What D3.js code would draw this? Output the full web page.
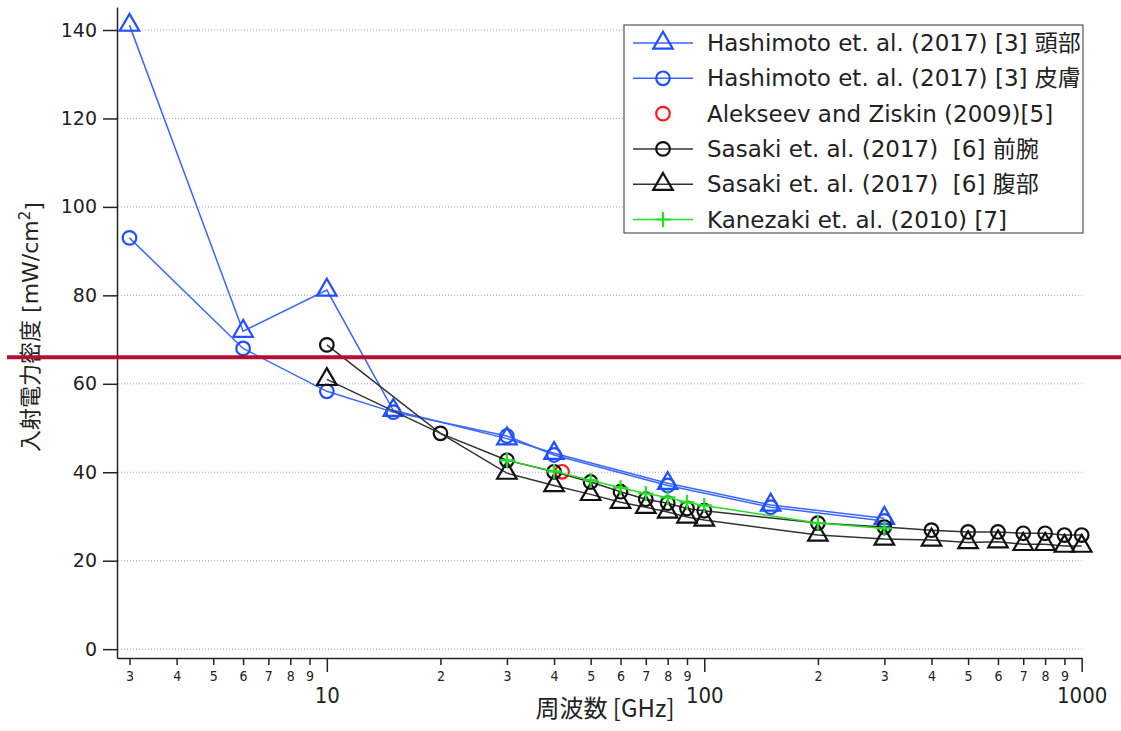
<!DOCTYPE html>
<html>
<head>
<meta charset="utf-8">
<script src="https://cdn.jsdelivr.net/npm/d3@7"></script>
<style>
  body { margin: 0; background: #fff; }
  text { font-family: "DejaVu Sans", "Noto Sans CJK JP", sans-serif; fill: #222; }
</style>
</head>
<body>
<script>
// Data (frequency in GHz, incident power density in mW/cm2)
var freqHashimoto = [3, 6, 10, 15, 30, 40, 80, 150, 300];
var headHashimoto = [141.1, 71.9, 81.2, 54.0, 47.6, 44.3, 37.5, 32.6, 29.6];
var skinHashimoto = [93.0, 68.0, 58.3, 53.6, 48.2, 43.9, 37.0, 32.1, 29.0];

var freqAlekseev = [42];
var valAlekseev = [40.1];

var freqSasaki = [10, 20, 30, 40, 50, 60, 70, 80, 90, 100, 200, 300, 400, 500, 600, 700, 800, 900, 1000];
var forearmSasaki = [68.8, 48.8, 42.7, 40.1, 37.8, 35.6, 33.9, 33.0, 31.8, 31.3, 28.5, 27.6, 26.9, 26.5, 26.5, 26.2, 26.2, 25.8, 25.8];
var abdomenSasaki = [61.0, 48.8, 39.8, 37.0, 35.0, 33.2, 32.1, 31.0, 29.9, 29.2, 25.8, 24.9, 24.7, 24.1, 24.3, 23.7, 23.7, 23.3, 23.3];
var abdomenNoMarker = [20];   // point on the line drawn without a marker

var freqKanezaki = [30, 40, 50, 60, 70, 80, 90, 100, 200, 300];
var valKanezaki = [42.7, 40.2, 38.2, 36.5, 35.2, 34.3, 33.2, 32.5, 28.5, 27.3];

var yTicks = [0, 20, 40, 60, 80, 100, 120, 140];
var xMajorTicks = [10, 100, 1000];
var xMinorTicks = [3, 4, 5, 6, 7, 8, 9, 20, 30, 40, 50, 60, 70, 80, 90, 200, 300, 400, 500, 600, 700, 800, 900];

var legendNames = [
    "Hashimoto et. al. (2017) [3] 頭部",
    "Hashimoto et. al. (2017) [3] 皮膚",
    "Alekseev and Ziskin (2009)[5]",
    "Sasaki et. al. (2017)  [6] 前腕",
    "Sasaki et. al. (2017)  [6] 腹部",
    "Kanezaki et. al. (2010) [7]"
];

var refLevel = 66;

function init() {
    var w = 1121;
    var h = 731;

    var series = [
        {name: legendNames[0], f: freqHashimoto, v: headHashimoto, stroke: "#1f4fff", line: "#3a66ff", shape: "tri", showLine: true},
        {name: legendNames[1], f: freqHashimoto, v: skinHashimoto, stroke: "#1f4fff", line: "#3a66ff", shape: "circle", showLine: true},
        {name: legendNames[2], f: freqAlekseev, v: valAlekseev, stroke: "#ff1a1a", line: "#ff1a1a", shape: "circle", showLine: false},
        {name: legendNames[3], f: freqSasaki, v: forearmSasaki, stroke: "#111", line: "#333", shape: "circle", showLine: true},
        {name: legendNames[4], f: freqSasaki, v: abdomenSasaki, stroke: "#111", line: "#333", shape: "tri", showLine: true, skip: abdomenNoMarker},
        {name: legendNames[5], f: freqKanezaki, v: valKanezaki, stroke: "#22e022", line: "#22e022", shape: "plus", showLine: true}
    ];

    var svg = d3.select("body")
        .append("svg")
        .attr("width", w)
        .attr("height", h);

    // Scales
    var xScale = d3.scaleLog()
        .domain([2.78, 1000])
        .range([117, 1081.7]);

    var yScale = d3.scaleLinear()
        .domain([-2, 145.2])
        .range([658, 7]);

    // Grid lines
    svg.append("g")
        .selectAll("line")
        .data(yTicks)
        .enter()
        .append("line")
        .attr("x1", 118)
        .attr("x2", 1081.7)
        .attr("y1", function(d) { return yScale(d); })
        .attr("y2", function(d) { return yScale(d); })
        .style("stroke", "#9c9cff")
        .style("stroke-width", 1)
        .style("stroke-dasharray", "1,2");

    // Y axis
    var yAxis = svg.append("g")
        .attr("transform", "translate(117,0)")
        .call(d3.axisLeft(yScale).tickValues(yTicks).tickSize(14).tickSizeOuter(0).tickPadding(6));
    yAxis.selectAll("text").style("font-size", "19px").style("fill", "#222");
    yAxis.selectAll("line, path").style("stroke", "#222").style("stroke-width", 1.5);

    // X axis, minor ticks
    var xMinor = svg.append("g")
        .attr("transform", "translate(0,658)")
        .call(d3.axisBottom(xScale).tickValues(xMinorTicks).tickSize(7).tickSizeOuter(0)
            .tickFormat(function(d) { return String(d).charAt(0); }));
    xMinor.selectAll("text")
        .attr("y", 18)
        .attr("dy", "0.35em")
        .style("font-family", "'Liberation Sans Narrow', 'DejaVu Sans Condensed', sans-serif")
        .style("font-size", "14px")
        .style("fill", "#222");
    xMinor.selectAll("line, path").style("stroke", "#222").style("stroke-width", 1.5);

    // X axis, major ticks
    var xMajor = svg.append("g")
        .attr("transform", "translate(0,658)")
        .call(d3.axisBottom(xScale).tickValues(xMajorTicks).tickSize(14).tickSizeOuter(0)
            .tickFormat(d3.format("d")));
    xMajor.select(".domain").remove();
    xMajor.selectAll("text")
        .attr("y", 37)
        .attr("dy", "0.35em")
        .style("font-family", "'Liberation Sans Narrow', 'DejaVu Sans Condensed', sans-serif")
        .style("font-size", "22px")
        .style("fill", "#222");
    xMajor.selectAll("line").style("stroke", "#222").style("stroke-width", 1.5);

    // Axis titles
    svg.append("text")
        .attr("x", 605)
        .attr("y", 709)
        .attr("dy", "0.35em")
        .attr("text-anchor", "middle")
        .style("font-family", "'Liberation Sans Narrow', 'Noto Sans CJK JP', sans-serif")
        .style("font-size", "24px")
        .text("周波数 [GHz]");

    var yTitle = svg.append("text")
        .attr("transform", "translate(30,327) rotate(-90)")
        .attr("text-anchor", "middle")
        .attr("dy", "0.35em")
        .style("font-size", "22px");
    yTitle.append("tspan").text("入射電力密度 [mW/cm");
    yTitle.append("tspan").attr("dy", "-0.5em").style("font-size", "15px").text("2");
    yTitle.append("tspan").attr("dy", "0.5em").text("]");

    // Marker drawing
    var triPath = d3.symbol(d3.symbolTriangle, 165)();
    function drawMarker(sel, s) {
        if (s.shape === "tri") {
            sel.append("path")
                .attr("d", triPath)
                .style("fill", "none")
                .style("stroke", s.stroke)
                .style("stroke-width", 2.2);
        } else if (s.shape === "circle") {
            sel.append("circle")
                .attr("r", 6.8)
                .style("fill", "none")
                .style("stroke", s.stroke)
                .style("stroke-width", 2.2);
        } else {
            sel.append("path")
                .attr("d", "M-7.5,0H7.5M0,-7.5V7.5")
                .style("stroke", s.stroke)
                .style("stroke-width", 2.2);
        }
    }

    var line = d3.line()
        .x(function(d) { return xScale(d[0]); })
        .y(function(d) { return yScale(d[1]); });

    // Series
    series.forEach(function(s) {
        var pts = s.f.map(function(f, i) { return [f, s.v[i]]; });
        var g = svg.append("g");
        if (s.showLine) {
            g.append("path")
                .datum(pts)
                .attr("d", line)
                .style("fill", "none")
                .style("stroke", s.line)
                .style("stroke-width", 1.5);
        }
        var skip = s.skip || [];
        g.selectAll("g.mk")
            .data(pts.filter(function(d) { return skip.indexOf(d[0]) < 0; }))
            .enter()
            .append("g")
            .attr("class", "mk")
            .attr("transform", function(d) { return "translate(" + xScale(d[0]) + "," + yScale(d[1]) + ")"; })
            .each(function() { drawMarker(d3.select(this), s); });
    });

    // Legend
    var legendBox = svg.append("g").attr("transform", "translate(624,25)");
    legendBox.append("rect")
        .attr("width", 459)
        .attr("height", 208)
        .style("fill", "#fff")
        .style("stroke", "#555")
        .style("stroke-width", 1.2);

    var legend = legendBox.selectAll(".legend")
        .data(series)
        .enter()
        .append("g")
        .attr("class", "legend")
        .attr("transform", function(d, i) { return "translate(0," + (18 + i * 35.3) + ")"; });

    legend.filter(function(d) { return d.showLine; })
        .append("line")
        .attr("x1", 9)
        .attr("x2", 69)
        .style("stroke", function(d) { return d.line; })
        .style("stroke-width", 1.5);

    legend.append("g")
        .attr("transform", "translate(39,0)")
        .each(function(d) { drawMarker(d3.select(this), d); });

    legend.append("text")
        .attr("x", 83)
        .attr("dy", "0.35em")
        .style("font-size", "23px")
        .style("white-space", "pre")
        .text(function(d) { return d.name; });

    // Red reference line
    svg.append("line")
        .attr("x1", 7)
        .attr("x2", w)
        .attr("y1", yScale(refLevel))
        .attr("y2", yScale(refLevel))
        .style("stroke", "#b40f32")
        .style("stroke-width", 4);
}

window.onload = init;
</script>
</body>
</html>
